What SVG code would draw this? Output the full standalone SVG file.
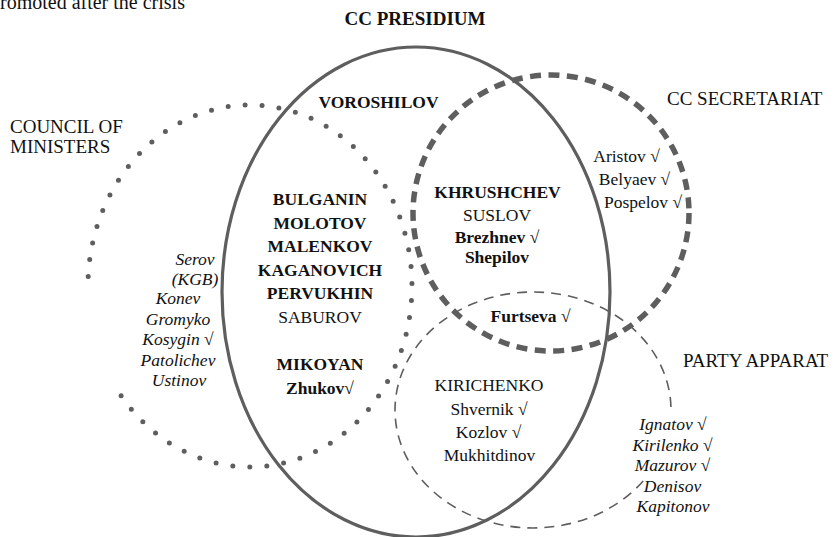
<svg xmlns="http://www.w3.org/2000/svg" width="834" height="537" viewBox="0 0 834 537">
<style>
.shape{fill:none;stroke:#5e5e5e}
.t{font-family:'Liberation Serif','Times New Roman','DejaVu Serif',serif;fill:#111}
.lbl{font-size:19px}
.n{font-size:17.5px;text-anchor:middle}
.b{font-weight:bold}
.i{font-style:italic}
</style>
<rect width="834" height="537" fill="#fff"/>
<g id="council">
<path class="shape" d="M 88.2 276.5 A 162 181 0 1 1 112.6 381.9" stroke-width="5" stroke-linecap="round" stroke-dasharray="0 17"/>
</g>
<g id="presidium">
<ellipse class="shape" cx="416" cy="292" rx="194" ry="245" stroke-width="3.2"/>
</g>
<g id="secretariat">
<circle class="shape" cx="551" cy="213" r="138" stroke-width="5.5" stroke-dasharray="11 7.5"/>
</g>
<g id="apparat">
<path class="shape" d="M 643.2 481 A 138 118 0 1 1 671 410" stroke-width="1.6" stroke-dasharray="10 7"/>
</g>
<g id="labels">
<text class="t" font-size="20" x="0" y="9">romoted after the crisis</text>
<text class="t lbl b" x="415" y="25" text-anchor="middle">CC PRESIDIUM</text>
<text class="t lbl" x="667" y="105">CC SECRETARIAT</text>
<text class="t lbl" x="10" y="133">COUNCIL OF</text>
<text class="t lbl" x="10" y="153">MINISTERS</text>
<text class="t lbl" x="683" y="367">PARTY APPARAT</text>
</g>
<g id="presidium-names">
<text class="t n b" x="378.5" y="108">VOROSHILOV</text>
<text class="t n b" x="320" y="205">BULGANIN</text>
<text class="t n b" x="320" y="228.5">MOLOTOV</text>
<text class="t n b" x="320" y="252">MALENKOV</text>
<text class="t n b" x="320" y="275.5">KAGANOVICH</text>
<text class="t n b" x="320" y="299">PERVUKHIN</text>
<text class="t n" x="320" y="323">SABUROV</text>
<text class="t n b" x="320" y="370">MIKOYAN</text>
<text class="t n b" x="320" y="393.5">Zhukov√</text>
</g>
<g id="secretariat-names">
<text class="t n b" x="497.5" y="198">KHRUSHCHEV</text>
<text class="t n" x="497" y="220.5">SUSLOV</text>
<text class="t n b" x="497" y="242.5">Brezhnev √</text>
<text class="t n b" x="497" y="263">Shepilov</text>
<text class="t n b" x="530.5" y="322">Furtseva √</text>
<text class="t n" x="626.5" y="162">Aristov √</text>
<text class="t n" x="634.5" y="185">Belyaev √</text>
<text class="t n" x="643" y="208">Pospelov √</text>
</g>
<g id="council-names">
<text class="t n i" x="195" y="265">Serov</text>
<text class="t n i" x="195" y="285">(KGB)</text>
<text class="t n i" x="178" y="304">Konev</text>
<text class="t n i" x="178" y="324.5">Gromyko</text>
<text class="t n i" x="178" y="345">Kosygin √</text>
<text class="t n i" x="178" y="365.5">Patolichev</text>
<text class="t n i" x="179" y="386">Ustinov</text>
</g>
<g id="apparat-names">
<text class="t n" x="489" y="391">KIRICHENKO</text>
<text class="t n" x="489" y="414.5">Shvernik √</text>
<text class="t n" x="488.5" y="438">Kozlov √</text>
<text class="t n" x="489.5" y="461">Mukhitdinov</text>
<text class="t n i" x="673" y="430">Ignatov √</text>
<text class="t n i" x="672.5" y="450.5">Kirilenko √</text>
<text class="t n i" x="672.5" y="471">Mazurov √</text>
<text class="t n i" x="672.5" y="491.5">Denisov</text>
<text class="t n i" x="673" y="512">Kapitonov</text>
</g>
</svg>
